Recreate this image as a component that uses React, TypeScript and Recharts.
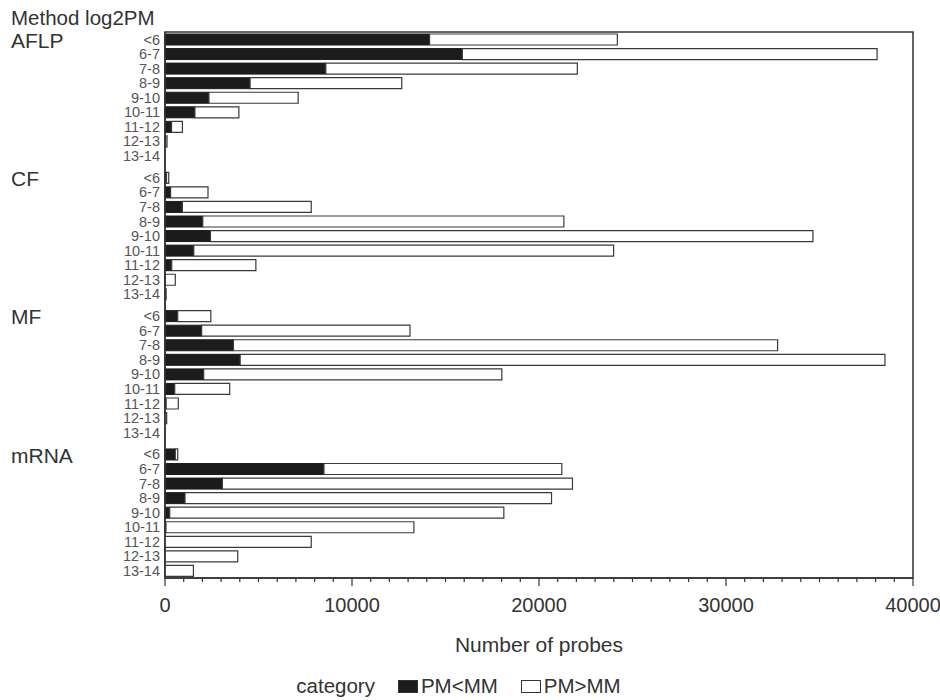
import { Bar, BarChart, Legend, ReferenceArea, XAxis, YAxis } from "recharts";

const METHODS = ["AFLP", "CF", "MF", "mRNA"];
const LOG2PM_BINS = ["<6", "6-7", "7-8", "8-9", "9-10", "10-11", "11-12", "12-13", "13-14"];

// probes with PM<MM, per log2PM bin
const AFLP_PM_LT_MM = [14150, 15900, 8600, 4550, 2350, 1600, 350, 30, 0];
const CF_PM_LT_MM = [80, 300, 930, 2020, 2430, 1540, 360, 20, 0];
const MF_PM_LT_MM = [680, 1960, 3660, 4020, 2070, 520, 60, 0, 0];
const MRNA_PM_LT_MM = [550, 8500, 3070, 1070, 250, 50, 0, 0, 0];

// probes with PM>MM, per log2PM bin
const AFLP_PM_GT_MM = [10040, 22180, 13450, 8110, 4770, 2350, 580, 80, 0];
const CF_PM_GT_MM = [120, 2000, 6890, 19310, 32220, 22450, 4500, 530, 60];
const MF_PM_GT_MM = [1770, 11140, 29100, 34480, 15940, 2940, 650, 90, 0];
const MRNA_PM_GT_MM = [130, 12720, 18720, 19600, 17870, 13260, 7820, 3890, 1520];

const X_LABELS = [0, 10000, 20000, 30000, 40000];

const FONT = '"Liberation Sans", Arial, Helvetica, sans-serif';
const INK = "#333";
const GROUP_GAP = 0.5; // blank space between methods, in rows

const lessByMethod = [AFLP_PM_LT_MM, CF_PM_LT_MM, MF_PM_LT_MM, MRNA_PM_LT_MM];
const moreByMethod = [AFLP_PM_GT_MM, CF_PM_GT_MM, MF_PM_GT_MM, MRNA_PM_GT_MM];

const rows = METHODS.flatMap((method, g) =>
  LOG2PM_BINS.map((bin, i) => ({
    slot: g * (LOG2PM_BINS.length + GROUP_GAP) + i,
    method,
    bin,
    first: i === 0,
    less: lessByMethod[g][i],
    more: moreByMethod[g][i],
  })),
);
const rowBySlot = new Map(rows.map((r) => [r.slot, r]));
const slots = rows.map((r) => r.slot);
const yDomain = [-0.5, slots[slots.length - 1] + 0.5];

const xMax = X_LABELS[X_LABELS.length - 1];
const xTicks = Array.from({ length: xMax / 1000 + 1 }, (_, i) => i * 1000);

function RowTick({ x, y, payload }: any) {
  const row = rowBySlot.get(payload.value);
  if (!row) return null;
  return (
    <g>
      <text x={x - 5} y={y} dy="0.36em" textAnchor="end" fontSize={14.5} fill="#555" fontFamily={FONT}>
        {row.bin}
      </text>
      {row.first && (
        <text x={11} y={y + 8.3} fontSize={21} fill={INK} fontFamily={FONT}>
          {row.method}
        </text>
      )}
    </g>
  );
}

function ProbeTick({ x, y, payload }: any) {
  const major = X_LABELS.includes(payload.value);
  return (
    <g>
      <line x1={x} x2={x} y1={y} y2={y + (major ? 8 : 4)} stroke={INK} strokeWidth={1.2} />
      {major && (
        <text x={x} y={y + 34} textAnchor="middle" fontSize={20} fill={INK} fontFamily={FONT}>
          {payload.value}
        </text>
      )}
    </g>
  );
}

function CategoryLegend({ payload }: any) {
  return (
    <div
      style={{
        display: "flex",
        justifyContent: "center",
        alignItems: "center",
        height: 24,
        paddingTop: 14,
        fontSize: 20.5,
        lineHeight: "24px",
        color: INK,
        fontFamily: FONT,
      }}
    >
      <span style={{ marginRight: 23 }}>category</span>
      {(payload || []).map((item: any) => (
        <span key={item.value} style={{ display: "flex", alignItems: "center", marginRight: 23 }}>
          <span
            style={{
              display: "inline-block",
              width: 20,
              height: 13,
              marginRight: 3,
              boxSizing: "border-box",
              background: item.color,
              border: `1.5px solid ${INK}`,
            }}
          />
          {item.value}
        </span>
      ))}
    </div>
  );
}

export default function App() {
  return (
    <div style={{ position: "absolute", left: 0, top: 0, width: 940, height: 700, fontFamily: FONT, background: "#fff" }}>
      <div style={{ position: "absolute", left: 11, top: 7, fontSize: 20.5, lineHeight: "21px", color: INK }}>
        Method log2PM
      </div>
      <BarChart
        width={940}
        height={700}
        data={rows}
        layout="vertical"
        margin={{ top: 32, right: 27, left: 0, bottom: 0 }}
      >
        <XAxis
          type="number"
          domain={[0, xMax]}
          ticks={xTicks}
          interval={0}
          tickSize={0}
          tickMargin={0}
          tickLine={false}
          tick={<ProbeTick />}
          axisLine={{ stroke: INK, strokeWidth: 1.5 }}
          height={82}
          label={{
            value: "Number of probes",
            position: "insideBottom",
            offset: 8,
            fontSize: 21,
            fill: INK,
            fontFamily: FONT,
          }}
        />
        <YAxis
          type="number"
          dataKey="slot"
          domain={yDomain}
          allowDataOverflow
          ticks={slots}
          interval={0}
          tickSize={0}
          tickMargin={0}
          tickLine={false}
          tick={<RowTick />}
          axisLine={{ stroke: INK, strokeWidth: 1.5 }}
          width={165}
        />
        <ReferenceArea
          x1={0}
          x2={xMax}
          y1={yDomain[0]}
          y2={yDomain[1]}
          fill="none"
          stroke={INK}
          strokeWidth={1.5}
          ifOverflow="visible"
        />
        <Bar
          dataKey="less"
          name="PM<MM"
          stackId="probes"
          barSize={11}
          fill="#1c1c1c"
          stroke="#1c1c1c"
          isAnimationActive={false}
        />
        <Bar
          dataKey="more"
          name="PM>MM"
          stackId="probes"
          barSize={11}
          fill="#ffffff"
          stroke="#3a3a3a"
          strokeWidth={1.2}
          isAnimationActive={false}
        />
        <Legend
          verticalAlign="bottom"
          height={40}
          content={<CategoryLegend />}
          wrapperStyle={{ left: 0, width: 940 }}
        />
      </BarChart>
    </div>
  );
}
